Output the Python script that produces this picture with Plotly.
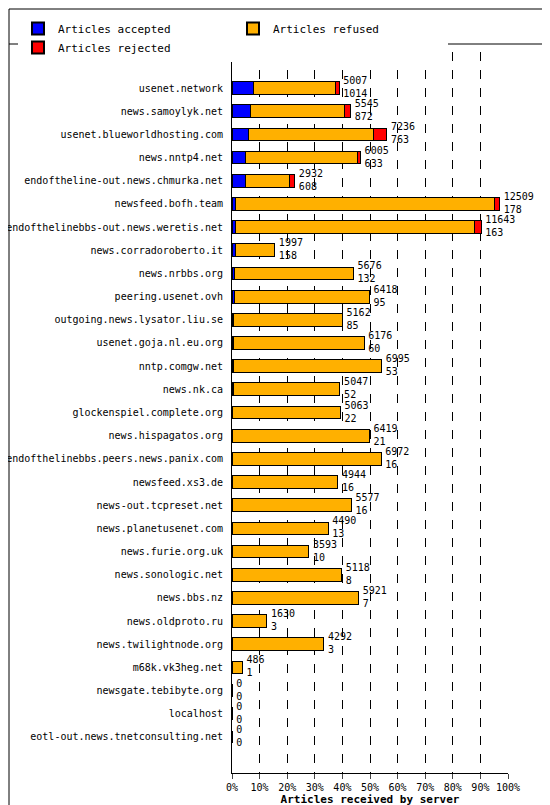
import plotly.graph_objects as go

servers = ["usenet.network","news.samoylyk.net","usenet.blueworldhosting.com","news.nntp4.net",
"endoftheline-out.news.chmurka.net","newsfeed.bofh.team","endofthelinebbs-out.news.weretis.net",
"news.corradoroberto.it","news.nrbbs.org","peering.usenet.ovh","outgoing.news.lysator.liu.se",
"usenet.goja.nl.eu.org","nntp.comgw.net","news.nk.ca","glockenspiel.complete.org","news.hispagatos.org",
"endofthelinebbs.peers.news.panix.com","newsfeed.xs3.de","news-out.tcpreset.net","news.planetusenet.com",
"news.furie.org.uk","news.sonologic.net","news.bbs.nz","news.oldproto.ru","news.twilightnode.org",
"m68k.vk3heg.net","newsgate.tebibyte.org","localhost","eotl-out.news.tnetconsulting.net"]
offered = [5007,5545,7236,6005,2932,12509,11643,1997,5676,6418,5162,6176,6995,5047,5063,6419,6972,4944,5577,4490,3593,5118,5921,1630,4292,486,0,0,0]
accepted = [1014,872,763,633,608,178,163,158,132,95,85,60,53,52,22,21,16,16,16,13,10,8,7,3,3,1,0,0,0]
rejected = [180,280,600,140,230,230,320,0,0,0,0,0,0,0,0,0,0,0,0,0,0,0,0,0,0,0,0,0,0]
scale_max = 12900
refused = [o - a - r for o, a, r in zip(offered, accepted, rejected)]
pct = lambda v: [x / scale_max * 100 for x in v]

font = "DejaVu Sans Mono"
L, R, T, B = 224, 50, 44, 40
PW, PH = 550 - L - R, 805 - T - B
fig = go.Figure()
for name, vals, col in [("Articles accepted", accepted, "#0000ff"),
                        ("Articles refused", refused, "#ffb000"),
                        ("Articles rejected", rejected, "#ff0000")]:
    fig.add_bar(y=servers, x=pct(vals), orientation="h", name=name,
                marker=dict(color=col, line=dict(color="black", width=1)), width=0.55)
fig.add_scatter(y=servers, x=[p + 1.5 for p in pct(offered)], mode="text",
                text=[f"{o}<br>{a}" for o, a in zip(offered, accepted)],
                textposition="middle right", textfont=dict(family=font, size=10, color="black"),
                showlegend=False, cliponaxis=False)
fig.update_layout(
    width=550, height=805, barmode="stack", plot_bgcolor="white", paper_bgcolor="white",
    font=dict(family=font, size=11, color="black"),
    margin=dict(l=L, r=R, t=T, b=B, autoexpand=False),
    legend=dict(orientation="h", x=-(L - 10) / PW, y=1 + 38 / PH, xref="paper", yref="paper",
                xanchor="left", yanchor="top", font=dict(size=11), entrywidth=170,
                traceorder="normal", itemsizing="constant"),
    xaxis=dict(range=[0, 100], tickvals=list(range(0, 101, 10)), ticktext=[f"{v}%" for v in range(0, 101, 10)],
               tickangle=0, tickfont=dict(size=10), automargin=False,
               showgrid=True, gridcolor="black", griddash="dash", gridwidth=1, ticks="outside",
               showline=True, linecolor="black", zeroline=False,
               title=dict(text="<b>Articles received by server</b>", font=dict(size=11), standoff=2)),
    yaxis=dict(categoryorder="array", categoryarray=servers[::-1], showline=True, linecolor="black",
               ticks="", ticksuffix=" ", showgrid=False, automargin=False, tickfont=dict(size=10)),
    shapes=[dict(type="rect", xref="paper", yref="paper", x0=-(L - 1) / PW, x1=1 + (R - 2) / PW,
                 y0=-(B - 2) / PH, y1=1 + (T - 1) / PH, line=dict(color="black", width=1)),
            dict(type="line", xref="paper", yref="paper", x0=-(L - 1) / PW, x1=1 + (R - 2) / PW,
                 y0=1 + 8 / PH, y1=1 + 8 / PH, line=dict(color="black", width=1))],
)
fig.write_html("out.html")
